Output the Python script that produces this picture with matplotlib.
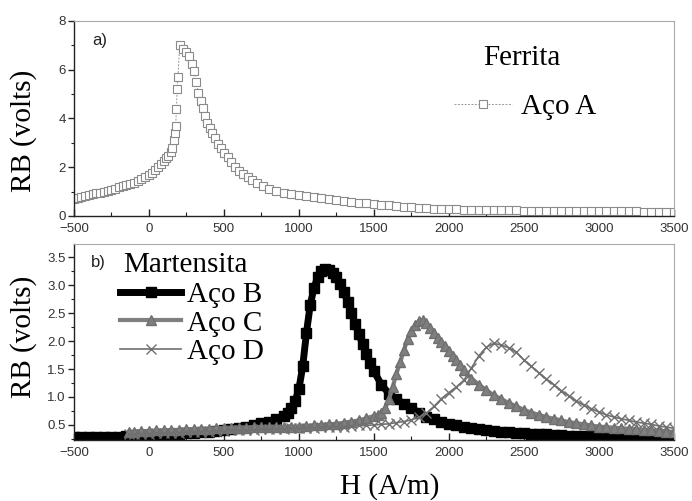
import numpy as np
import matplotlib
matplotlib.use('Agg')
import matplotlib.pyplot as plt

# ---- data ----
# a) Ferrita, Aco A
h_a = [-500, -475, -450, -425, -400, -375, -350, -325, -300, -275, -250, -225,
       -200, -175, -150, -125, -100, -75, -50, -25, 0, 20, 40, 60, 80, 100,
       115, 130, 145, 155, 165, 172, 178, 183, 188, 193, 205, 225, 245, 265,
       285, 300, 315, 330, 345, 360, 375, 390, 405, 420, 440, 460, 480, 500,
       525, 550, 575, 600, 630, 660, 690, 720, 760, 800, 850, 900, 950, 1000,
       1050, 1100, 1150, 1200, 1250, 1300, 1350, 1400, 1450, 1500, 1550, 1600,
       1650, 1700, 1750, 1800, 1850, 1900, 1950, 2000, 2050, 2100, 2150, 2200,
       2250, 2300, 2350, 2400, 2450, 2500, 2550, 2600, 2650, 2700, 2750, 2800,
       2850, 2900, 2950, 3000, 3050, 3100, 3150, 3200, 3250, 3300, 3350, 3400,
       3450, 3500]
rb_a = [0.70, 0.74, 0.78, 0.82, 0.86, 0.89, 0.93, 0.96, 1.00, 1.04, 1.08, 1.12,
        1.17, 1.22, 1.27, 1.32, 1.37, 1.43, 1.50, 1.58, 1.68, 1.77, 1.87, 2.00,
        2.13, 2.25, 2.36, 2.48, 2.62, 2.80, 3.10, 3.40, 3.70, 4.40, 5.20, 5.70,
        7.00, 6.85, 6.72, 6.55, 6.25, 5.95, 5.50, 5.05, 4.72, 4.45, 4.10, 3.82,
        3.60, 3.42, 3.19, 2.95, 2.78, 2.60, 2.40, 2.20, 2.02, 1.86, 1.72, 1.58,
        1.46, 1.36, 1.22, 1.12, 1.02, 0.95, 0.90, 0.86, 0.81, 0.76, 0.72, 0.68,
        0.64, 0.61, 0.58, 0.55, 0.52, 0.49, 0.47, 0.44, 0.41, 0.38, 0.36, 0.34,
        0.32, 0.30, 0.29, 0.28, 0.27, 0.26, 0.25, 0.25, 0.24, 0.24, 0.23, 0.23,
        0.23, 0.22, 0.22, 0.22, 0.21, 0.21, 0.21, 0.21, 0.20, 0.20, 0.20, 0.20,
        0.19, 0.19, 0.19, 0.19, 0.19, 0.18, 0.18, 0.18, 0.18, 0.18]

# b) Martensita, Aco B
h_b = [-500, -450, -400, -350, -300, -250, -200, -150, -100, -50, 0, 50, 100,
       150, 200, 250, 300, 350, 400, 450, 500, 550, 600, 650, 700, 750, 800,
       850, 900, 925, 950, 975, 1000, 1025, 1050, 1075, 1100, 1125, 1150, 1175,
       1200, 1225, 1250, 1275, 1300, 1325, 1350, 1375, 1400, 1425, 1450, 1475,
       1500, 1550, 1600, 1650, 1700, 1750, 1800, 1850, 1900, 1950, 2000, 2050,
       2100, 2150, 2200, 2250, 2300, 2350, 2400, 2450, 2500, 2550, 2600, 2650,
       2700, 2750, 2800, 2850, 2900, 2950, 3000, 3050, 3100, 3150, 3200, 3250,
       3300, 3350, 3400, 3450, 3500]
rb_b = [0.28, 0.28, 0.28, 0.28, 0.29, 0.29, 0.29, 0.30, 0.30, 0.31, 0.31, 0.32,
        0.32, 0.33, 0.34, 0.35, 0.36, 0.37, 0.38, 0.39, 0.41, 0.43, 0.45, 0.47,
        0.50, 0.53, 0.56, 0.60, 0.66, 0.71, 0.80, 0.93, 1.15, 1.55, 2.15, 2.65,
        2.95, 3.15, 3.26, 3.30, 3.28, 3.22, 3.14, 3.02, 2.88, 2.70, 2.50, 2.30,
        2.12, 1.94, 1.77, 1.60, 1.46, 1.22, 1.06, 0.96, 0.88, 0.80, 0.72, 0.65,
        0.60, 0.56, 0.52, 0.49, 0.46, 0.44, 0.42, 0.41, 0.39, 0.38, 0.37, 0.36,
        0.35, 0.34, 0.33, 0.33, 0.32, 0.32, 0.31, 0.31, 0.30, 0.30, 0.30, 0.29,
        0.29, 0.29, 0.28, 0.28, 0.28, 0.28, 0.27, 0.27, 0.27]

# Aco C
h_c = [-130, -100, -50, 0, 50, 100, 150, 200, 250, 300, 350, 400, 450, 500,
       550, 600, 650, 700, 750, 800, 850, 900, 950, 1000, 1050, 1100, 1150,
       1200, 1250, 1300, 1350, 1400, 1450, 1500, 1525, 1550, 1575, 1600, 1625,
       1650, 1675, 1700, 1725, 1750, 1775, 1800, 1825, 1850, 1875, 1900, 1925,
       1950, 1975, 2000, 2025, 2050, 2075, 2100, 2150, 2200, 2250, 2300, 2350,
       2400, 2450, 2500, 2550, 2600, 2650, 2700, 2750, 2800, 2850, 2900, 2950,
       3000, 3050, 3100, 3150, 3200, 3250, 3300, 3350, 3400, 3450, 3500]
rb_c = [0.38, 0.38, 0.39, 0.39, 0.40, 0.40, 0.41, 0.41, 0.42, 0.42, 0.43, 0.43,
        0.44, 0.44, 0.45, 0.45, 0.45, 0.46, 0.46, 0.46, 0.46, 0.46, 0.47, 0.47,
        0.48, 0.49, 0.50, 0.51, 0.52, 0.54, 0.56, 0.58, 0.62, 0.66, 0.68, 0.72,
        0.80, 0.96, 1.18, 1.42, 1.62, 1.84, 2.04, 2.18, 2.29, 2.36, 2.38, 2.33,
        2.24, 2.14, 2.06, 1.98, 1.91, 1.82, 1.74, 1.66, 1.57, 1.48, 1.33, 1.22,
        1.12, 1.03, 0.96, 0.89, 0.83, 0.77, 0.72, 0.68, 0.64, 0.61, 0.58, 0.55,
        0.53, 0.51, 0.49, 0.47, 0.46, 0.45, 0.44, 0.43, 0.42, 0.41, 0.40, 0.39,
        0.38, 0.38]

# Aco D
h_d = [-130, -100, -50, 0, 50, 100, 150, 200, 250, 300, 350, 400, 450, 500,
       550, 600, 650, 700, 750, 800, 850, 900, 950, 1000, 1050, 1100, 1150,
       1200, 1250, 1300, 1350, 1400, 1450, 1500, 1550, 1600, 1650, 1700, 1750,
       1800, 1850, 1900, 1950, 2000, 2050, 2100, 2150, 2200, 2250, 2300, 2350,
       2400, 2450, 2500, 2550, 2600, 2650, 2700, 2750, 2800, 2850, 2900, 2950,
       3000, 3050, 3100, 3150, 3200, 3250, 3300, 3350, 3400, 3450, 3500]
rb_d = [0.33, 0.33, 0.34, 0.34, 0.35, 0.35, 0.36, 0.36, 0.37, 0.37, 0.38, 0.38,
        0.39, 0.39, 0.40, 0.40, 0.41, 0.41, 0.42, 0.42, 0.43, 0.43, 0.44, 0.44,
        0.45, 0.45, 0.46, 0.46, 0.47, 0.47, 0.48, 0.49, 0.49, 0.50, 0.51, 0.52,
        0.54, 0.56, 0.59, 0.64, 0.71, 0.83, 0.97, 1.08, 1.18, 1.30, 1.52, 1.74,
        1.89, 1.96, 1.93, 1.88, 1.80, 1.66, 1.55, 1.43, 1.32, 1.22, 1.11, 1.02,
        0.93, 0.85, 0.79, 0.73, 0.68, 0.64, 0.61, 0.58, 0.55, 0.53, 0.51, 0.48,
        0.46, 0.44]

x_ticks = [-500, 0, 500, 1000, 1500, 2000, 2500, 3000, 3500]

serif = 'Liberation Serif'
sans = 'Liberation Sans'
big = 21

fig = plt.figure(figsize=(6.92, 5.01), dpi=100)
ax1 = fig.add_axes([0.1069, 0.5689, 0.867, 0.3892])
ax2 = fig.add_axes([0.1069, 0.1218, 0.867, 0.3912])


def style_axes(ax):
    for side in ['left', 'bottom']:
        ax.spines[side].set_color('#222222')
        ax.spines[side].set_linewidth(1.0)
    for side in ['top', 'right']:
        ax.spines[side].set_color('#aaaaaa')
        ax.spines[side].set_linewidth(0.8)
    ax.set_xlim(-500, 3500)
    ax.set_xticks(x_ticks)
    ax.set_xticks(np.arange(-250, 3500, 500), minor=True)
    ax.tick_params(axis='x', which='major', direction='in', length=5, width=1,
                   colors='#222222', labelcolor='#333333', labelsize=9.5, pad=5)
    ax.tick_params(axis='x', which='minor', direction='in', length=3, width=0.8,
                   colors='#222222')
    ax.tick_params(axis='y', which='major', direction='out', length=4, width=1,
                   colors='#222222', labelcolor='#333333', labelsize=9.5, pad=2)
    ax.tick_params(axis='y', which='minor', direction='out', length=2.5,
                   width=0.8, colors='#222222')
    for lab in ax.get_xticklabels() + ax.get_yticklabels():
        lab.set_family(sans)


# ---- top panel ----
ax1.plot(h_a, rb_a, linestyle=(0, (2, 1.5)), color='#999999', lw=0.7,
         marker='s', ms=5.5, mfc='white', mec='#8a8a8a', mew=0.8, label='Aço A')
ax1.set_ylim(0, 8)
ax1.set_yticks([0, 2, 4, 6, 8])
ax1.set_yticks([1, 3, 5, 7], minor=True)
style_axes(ax1)
ax1.set_ylabel('RB (volts)', fontsize=big, family=serif)
ax1.yaxis.set_label_coords(-0.062, 0.436)
ax1.text(0.03, 0.90, 'a)', transform=ax1.transAxes, fontsize=12,
         family=sans, color='#222222', va='center')
ax1.text(0.682, 0.774, 'Ferrita', transform=ax1.transAxes, fontsize=big,
         family=serif, va='baseline')
leg1 = ax1.legend(loc='center left', bbox_to_anchor=(0.633, 0.56),
                  frameon=False, borderpad=0, borderaxespad=0,
                  handlelength=2.0, handletextpad=0.3,
                  prop={'family': serif, 'size': big})

# ---- bottom panel ----
ax2.plot(h_b, rb_b, color='black', lw=5, marker='s', ms=7, label='Aço B')
ax2.plot(h_c, rb_c, color='#7f7f7f', lw=3, marker='^', ms=7, mec='#6f6f6f',
         label='Aço C')
ax2.plot(h_d, rb_d, color='#707070', lw=1.2, marker='x', ms=7, mew=1,
         label='Aço D')
ax2.set_ylim(0.23, 3.74)
ax2.set_yticks([0.5, 1.0, 1.5, 2.0, 2.5, 3.0, 3.5])
ax2.set_yticks(np.arange(0.25, 3.75, 0.5), minor=True)
ax2.yaxis.set_major_formatter(matplotlib.ticker.FormatStrFormatter('%.1f'))
style_axes(ax2)
ax2.set_ylabel('RB (volts)', fontsize=big, family=serif)
ax2.yaxis.set_label_coords(-0.062, 0.525)
ax2.text(0.028, 0.903, 'b)', transform=ax2.transAxes, fontsize=12,
         family=sans, color='#222222', va='center')
ax2.text(0.082, 0.857, 'Martensita', transform=ax2.transAxes, fontsize=big,
         family=serif, va='baseline')
leg2 = ax2.legend(loc='center left', bbox_to_anchor=(0.077, 0.595),
                  frameon=False, borderpad=0, borderaxespad=0,
                  handlelength=2.1, handletextpad=0.2, labelspacing=0.06,
                  prop={'family': serif, 'size': big})

fig.text(390 / 692, 1 - 487 / 501, 'H (A/m)', fontsize=big, family=serif,
         ha='center', va='center')

fig.savefig('out.png', dpi=100)
